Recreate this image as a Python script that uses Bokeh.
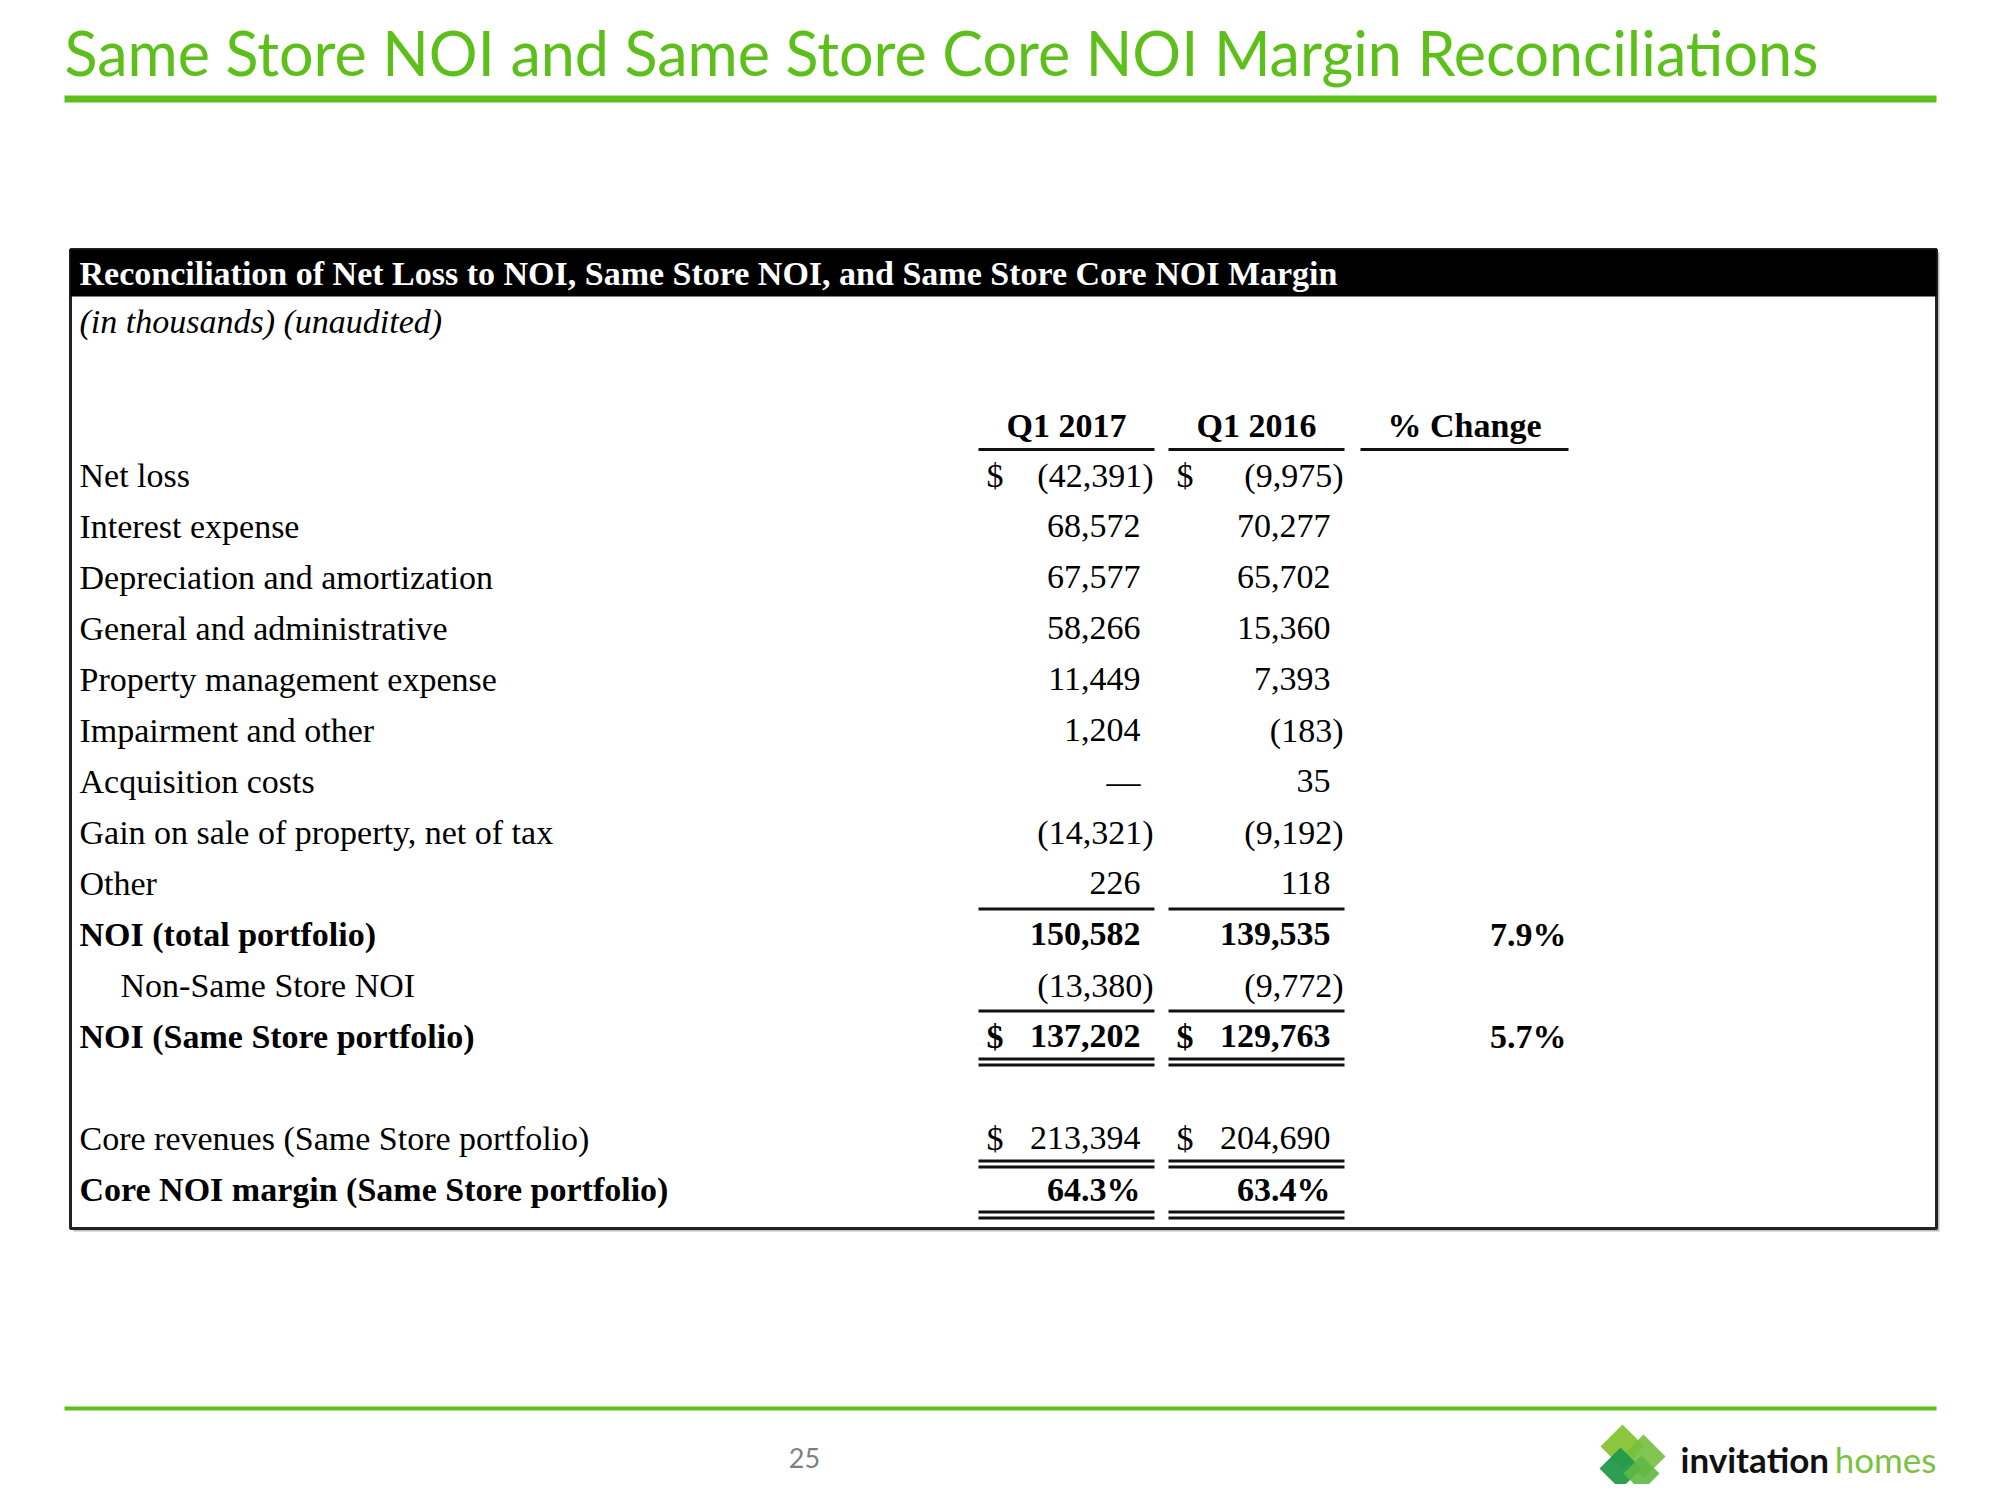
from bokeh.plotting import figure
from bokeh.models import Range1d, ColumnDataSource
from bokeh.embed import file_html
from bokeh.resources import INLINE
from bokeh.core.properties import value

# ---------------- data ----------------
title = "Same Store NOI and Same Store Core NOI Margin Reconciliations"
table_title = "Reconciliation of Net Loss to NOI, Same Store NOI, and Same Store Core NOI Margin"
table_subtitle = "(in thousands) (unaudited)"
col_headers = ["Q1 2017", "Q1 2016", "% Change"]

row_labels = ["Net loss", "Interest expense", "Depreciation and amortization",
              "General and administrative", "Property management expense",
              "Impairment and other", "Acquisition costs",
              "Gain on sale of property, net of tax", "Other",
              "NOI (total portfolio)", "Non-Same Store NOI", "NOI (Same Store portfolio)"]
q1_2017 = [-42391, 68572, 67577, 58266, 11449, 1204, 0, -14321, 226, 150582, -13380, 137202]
q1_2016 = [-9975, 70277, 65702, 15360, 7393, -183, 35, -9192, 118, 139535, -9772, 129763]
pct_change = [None, None, None, None, None, None, None, None, None, 7.9, None, 5.7]
bold_rows = [9, 11]
indent_rows = [10]
dollar_rows = [0, 11]

core_labels = ["Core revenues (Same Store portfolio)", "Core NOI margin (Same Store portfolio)"]
core_2017 = [213394, 64.3]
core_2016 = [204690, 63.4]
core_is_pct = [False, True]
core_bold = [False, True]
core_dollar = [True, False]

page_number = "25"

# ---------------- layout ----------------
W, H = 1984, 1484
GREEN = "#5cbf1a"
SERIF = value("Liberation Serif")
SANS = value("Lato")
FS = "34px"

p = figure(width=W, height=H, x_range=Range1d(0, W), y_range=Range1d(H, 0),
           output_backend="svg", toolbar_location=None, min_border=0,
           x_axis_location=None, y_axis_location=None)
p.grid.visible = False
p.outline_line_color = None
p.background_fill_color = "white"
p.border_fill_color = "white"

# title
p.text(x=[64], y=[52], text=[title], text_font=SANS, text_font_size="61px",
       text_color=GREEN, text_baseline="middle", text_align="left")
p.quad(left=[64], right=[1936], top=[95], bottom=[102], fill_color=GREEN, line_color=None)

# table box
BOX_L, BOX_R, BOX_T, BOX_B = 70, 1936, 249, 1228
p.quad(left=[BOX_L + 3], right=[BOX_R + 3], top=[BOX_T + 3], bottom=[BOX_B + 3],
       fill_color="#bbbbbb", line_color=None)
p.quad(left=[BOX_L], right=[BOX_R], top=[BOX_T], bottom=[BOX_B],
       fill_color="white", line_color="#222222", line_width=3)
p.quad(left=[BOX_L], right=[BOX_R], top=[BOX_T], bottom=[296], fill_color="black", line_color=None)
p.text(x=[79], y=[273], text=[table_title], text_font=SERIF, text_font_size="34px",
       text_font_style="bold", text_color="white", text_baseline="middle")
p.text(x=[79], y=[321], text=[table_subtitle], text_font=SERIF, text_font_size=FS,
       text_font_style="italic", text_color="black", text_baseline="middle")

# column geometry
col_left = [978, 1168, 1360]
col_right = [1154, 1344, 1568]
num_edge = [1140, 1330, 1566]
paren_edge = [1153, 1343, 1566]
dollar_x = [986, 1176]

p.text(x=[(l + r) / 2 for l, r in zip(col_left, col_right)], y=[425] * 3, text=col_headers,
       text_font=SERIF, text_font_size=FS, text_font_style="bold", text_align="center",
       text_baseline="middle")
p.segment(x0=col_left, x1=col_right, y0=[449] * 3, y1=[449] * 3, line_color="#111111", line_width=3)

Y0, DY = 474.5, 51.0


def fmt(v, pct=False):
    if v is None:
        return ""
    if pct:
        return f"{v:.1f}%"
    if v == 0:
        return "\u2014"
    if v < 0:
        return f"({abs(v):,})"
    return f"{v:,}"


lab_x, lab_y, lab_t, lab_s = [], [], [], []
val_x, val_y, val_t, val_s = [], [], [], []
dol_x, dol_y, dol_s = [], [], []

for i, lab in enumerate(row_labels):
    y = Y0 + i * DY
    style = "bold" if i in bold_rows else "normal"
    lab_x.append(120 if i in indent_rows else 79)
    lab_y.append(y)
    lab_t.append(lab)
    lab_s.append(style)
    for c, v in enumerate([q1_2017[i], q1_2016[i]]):
        t = fmt(v)
        val_x.append(paren_edge[c] if t.endswith(")") else num_edge[c])
        val_y.append(y)
        val_t.append(t)
        val_s.append(style)
        if i in dollar_rows:
            dol_x.append(dollar_x[c]); dol_y.append(y); dol_s.append(style)
    if pct_change[i] is not None:
        val_x.append(num_edge[2]); val_y.append(y); val_t.append(fmt(pct_change[i], True)); val_s.append("bold")

for j, lab in enumerate(core_labels):
    y = Y0 + (len(row_labels) + 1 + j) * DY
    style = "bold" if core_bold[j] else "normal"
    lab_x.append(79); lab_y.append(y); lab_t.append(lab); lab_s.append(style)
    for c, v in enumerate([core_2017[j], core_2016[j]]):
        t = fmt(v, core_is_pct[j])
        val_x.append(paren_edge[c] if t.endswith(")") else num_edge[c])
        val_y.append(y); val_t.append(t); val_s.append(style)
        if core_dollar[j]:
            dol_x.append(dollar_x[c]); dol_y.append(y); dol_s.append(style)

p.text(x="x", y="y", text="t", text_font_style="s",
       source=ColumnDataSource(dict(x=lab_x, y=lab_y, t=lab_t, s=lab_s)),
       text_font=SERIF, text_font_size=FS, text_baseline="middle", text_align="left")
p.text(x="x", y="y", text="t", text_font_style="s",
       source=ColumnDataSource(dict(x=val_x, y=val_y, t=val_t, s=val_s)),
       text_font=SERIF, text_font_size=FS, text_baseline="middle", text_align="right")
p.text(x="x", y="y", text="t", text_font_style="s",
       source=ColumnDataSource(dict(x=dol_x, y=dol_y, t=["$"] * len(dol_x), s=dol_s)),
       text_font=SERIF, text_font_size=FS, text_baseline="middle", text_align="left")

# rules under rows (single after "Other" and "Non-Same Store NOI", double after totals)
single_after = [8, 10]
double_after = [11, len(row_labels) + 1, len(row_labels) + 2]
sx0, sx1, sy = [], [], []
for r in single_after:
    y = Y0 + r * DY + 26
    for c in range(2):
        sx0.append(col_left[c]); sx1.append(col_right[c]); sy.append(y)
for r in double_after:
    y = Y0 + r * DY + 23
    for off in (0, 6):
        for c in range(2):
            sx0.append(col_left[c]); sx1.append(col_right[c]); sy.append(y + off)
p.segment(x0=sx0, x1=sx1, y0=sy, y1=sy, line_color="#111111", line_width=3)

# footer
p.quad(left=[64], right=[1936], top=[1406], bottom=[1410], fill_color=GREEN, line_color=None)
p.text(x=[804], y=[1457], text=[page_number], text_font=SANS, text_font_size="27px",
       text_color="#7f7f7f", text_align="center", text_baseline="middle")

# logo
def diamond(cx, cy, r):
    return [cx, cx + r, cx, cx - r], [cy - r, cy, cy + r, cy]

logo = [(1622, 1446, 22, "#8cc63e", 1.0), (1643, 1456, 22, "#76bf3f", 0.9),
        (1620, 1468, 21, "#23994a", 0.95), (1641, 1473, 18, "#5fb844", 0.9)]
xs, ys, cols, alphas = [], [], [], []
for cx, cy, r, col, a in logo:
    dx, dy = diamond(cx, cy, r)
    xs.append(dx); ys.append(dy); cols.append(col); alphas.append(a)
p.patches(xs=xs, ys=ys, fill_color=cols, fill_alpha=alphas, line_color=None)
p.text(x=[1680], y=[1458], text=["invitation"], text_font=SANS, text_font_size="35px",
       text_font_style="bold", text_color="#111111", text_baseline="middle")
p.text(x=[1936], y=[1458], text=["homes"], text_font=SANS, text_font_size="35px",
       text_color="#7cc242", text_baseline="middle", text_align="right")

open("out.html", "w").write(file_html(p, INLINE))
